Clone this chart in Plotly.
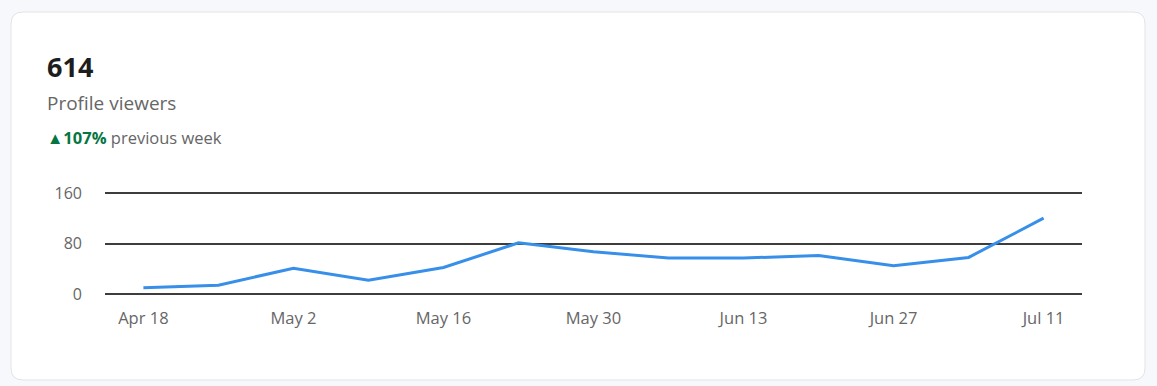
import plotly.graph_objects as go

# ---- data ----
dates = ["2022-04-18", "2022-04-25", "2022-05-02", "2022-05-09", "2022-05-16",
         "2022-05-23", "2022-05-30", "2022-06-06", "2022-06-13", "2022-06-20",
         "2022-06-27", "2022-07-04", "2022-07-11"]
viewers = [10, 14, 41, 22, 42, 81, 67, 57, 57, 61, 45, 58, 120]
tick_dates = ["2022-04-18", "2022-05-02", "2022-05-16", "2022-05-30",
              "2022-06-13", "2022-06-27", "2022-07-11"]
tick_labels = ["Apr 18", "May 2", "May 16", "May 30", "Jun 13", "Jun 27", "Jul 11"]
y_ticks = [0, 80, 160]
total_label = "614"
metric_label = "Profile viewers"
change_label = "107%"
change_suffix = "previous week"

W, H = 1157, 386
L, R, T, B = 105, 75, 191, 90
PW, PH = W - L - R, H - T - B
FONT = "Open Sans, Noto Sans, sans-serif"
BG = "#f7f8fb"


def px(x):
    return (x - L) / PW


def py(y):
    return (H - B - y) / PH


fig = go.Figure()
fig.add_trace(go.Scatter(
    x=dates, y=viewers, mode="lines",
    line=dict(color="#378fe9", width=3),
    hoverinfo="skip", showlegend=False,
))

# card background with rounded corners
x0, y0, x1, y1, r = 11, 12, 1145, 380, 12
rx, ry = r / PW, r / PH
X0, X1, Y0, Y1 = px(x0), px(x1), py(y1), py(y0)
path = (f"M {X0+rx},{Y0} L {X1-rx},{Y0} Q {X1},{Y0} {X1},{Y0+ry} "
        f"L {X1},{Y1-ry} Q {X1},{Y1} {X1-rx},{Y1} L {X0+rx},{Y1} "
        f"Q {X0},{Y1} {X0},{Y1-ry} L {X0},{Y0+ry} Q {X0},{Y0} {X0+rx},{Y0} Z")
fig.add_shape(type="path", path=path, xref="paper", yref="paper",
              fillcolor="white", line=dict(color="#e2e3e8", width=1), layer="below")

fig.add_annotation(text=f"<b>{total_label}</b>", x=px(45), y=py(87), xref="paper", yref="paper",
                   xanchor="left", yanchor="bottom", showarrow=False,
                   font=dict(family=FONT, size=27, color="#1d1d1d"))
fig.add_annotation(text=metric_label, x=px(45), y=py(118), xref="paper", yref="paper",
                   xanchor="left", yanchor="bottom", showarrow=False,
                   font=dict(family=FONT, size=19, color="#666666"))
fig.add_annotation(
    text=f"<span style='color:#057642'>▲<b>{change_label}</b></span> {change_suffix}",
    x=px(45), y=py(151), xref="paper", yref="paper",
    xanchor="left", yanchor="bottom", showarrow=False,
    font=dict(family=FONT, size=16.5, color="#666666"))

fig.update_layout(
    width=W, height=H,
    margin=dict(l=L, r=R, t=T, b=B, pad=0),
    paper_bgcolor=BG, plot_bgcolor="rgba(0,0,0,0)",
    font=dict(family=FONT, color="#666666", size=16),
    xaxis=dict(type="date", range=["2022-04-14 10:00", "2022-07-14 14:00"],
               tickvals=tick_dates, ticktext=tick_labels, showgrid=False,
               zeroline=False, showline=False, ticks="", ticklabelstandoff=10,
               tickfont=dict(size=16.5, color="#666666"), fixedrange=True),
    yaxis=dict(range=[-3, 163], tickvals=y_ticks, showgrid=True, gridcolor="#3d3d3d",
               gridwidth=1.5, zeroline=True, zerolinecolor="#3d3d3d", zerolinewidth=1.5,
               showline=False, ticks="", ticklabelstandoff=22,
               tickfont=dict(size=16, color="#666666"), fixedrange=True),
)

fig.write_html(
    "out.html",
    config={"displayModeBar": False},
    post_script=f"document.body.style.margin='0';document.body.style.background='{BG}';",
)
